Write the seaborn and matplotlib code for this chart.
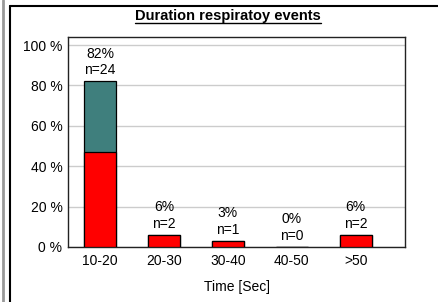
import numpy as np
import pandas as pd
import matplotlib
matplotlib.use("Agg")
import matplotlib.pyplot as plt
from matplotlib.lines import Line2D
import seaborn as sns

# values
categories = ["10-20", "20-30", "30-40", "40-50", ">50"]
total_pct = [82, 6, 3, 0, 6]
red_pct = [47, 6, 3, 0, 6]
counts = [24, 2, 1, 0, 2]
yticks = [0, 20, 40, 60, 80, 100]

df = pd.DataFrame({"cat": categories, "total": total_pct, "red": red_pct, "n": counts})

sns.set_style("white")
plt.rcParams["font.family"] = ["Liberation Sans", "DejaVu Sans"]
plt.rcParams["text.color"] = "black"
plt.rcParams["xtick.color"] = "black"
plt.rcParams["ytick.color"] = "black"
plt.rcParams["axes.labelcolor"] = "black"

fs = 10

fig = plt.figure(figsize=(4.38, 3.02), dpi=100)
ax = fig.add_axes([68 / 438, 55 / 302, 337 / 438, 210 / 302])

# teal part first (full height), red part on top of it
sns.barplot(data=df, x="cat", y="total", color="#3F7F7D", saturation=1,
            width=0.5, edgecolor="black", linewidth=0.9, ax=ax, zorder=3)
sns.barplot(data=df, x="cat", y="red", color="#FF0000", saturation=1,
            width=0.5, edgecolor="black", linewidth=0.9, ax=ax, zorder=4)

ax.set_xlim(-0.5, 4.77)
ax.set_ylim(0, 104)
ax.set_yticks(yticks)
ax.set_yticklabels([f"{v} %" for v in yticks], fontsize=fs)
ax.tick_params(axis="x", labelsize=fs, length=0, pad=5)
ax.tick_params(axis="y", length=0, pad=4)
ax.yaxis.grid(True, color="#CCCCCC", linewidth=1, zorder=0)
ax.set_axisbelow(True)
for s in ax.spines.values():
    s.set_color("#222222")
    s.set_linewidth(1)
ax.set_ylabel("")
ax.set_xlabel("Time [Sec]", fontsize=fs, labelpad=9)

for i, row in df.iterrows():
    ax.annotate(f"{row['total']}%\nn={row['n']}", (i, row["total"]),
                xytext=(0, 3), textcoords="offset points",
                ha="center", va="bottom", fontsize=fs, linespacing=1.25)

title = fig.text(228 / 438, 1 - 16 / 302, "Duration respiratoy events",
                 ha="center", va="center", fontsize=10.5, fontweight="bold")

# frame lines around the chart
fig.add_artist(Line2D([10 / 438, 1], [1 - 6 / 302] * 2, color="black", lw=1.5))
fig.add_artist(Line2D([10 / 438] * 2, [0, 1 - 6 / 302], color="black", lw=1.5))
fig.add_artist(Line2D([3 / 438] * 2, [0, 1], color="#999999", lw=2))

# underline the title
fig.canvas.draw()
bb = title.get_window_extent().transformed(fig.transFigure.inverted())
fig.add_artist(Line2D([bb.x0, bb.x1], [1 - 23 / 302] * 2, color="black", lw=1))

fig.savefig("out.png", dpi=100)
